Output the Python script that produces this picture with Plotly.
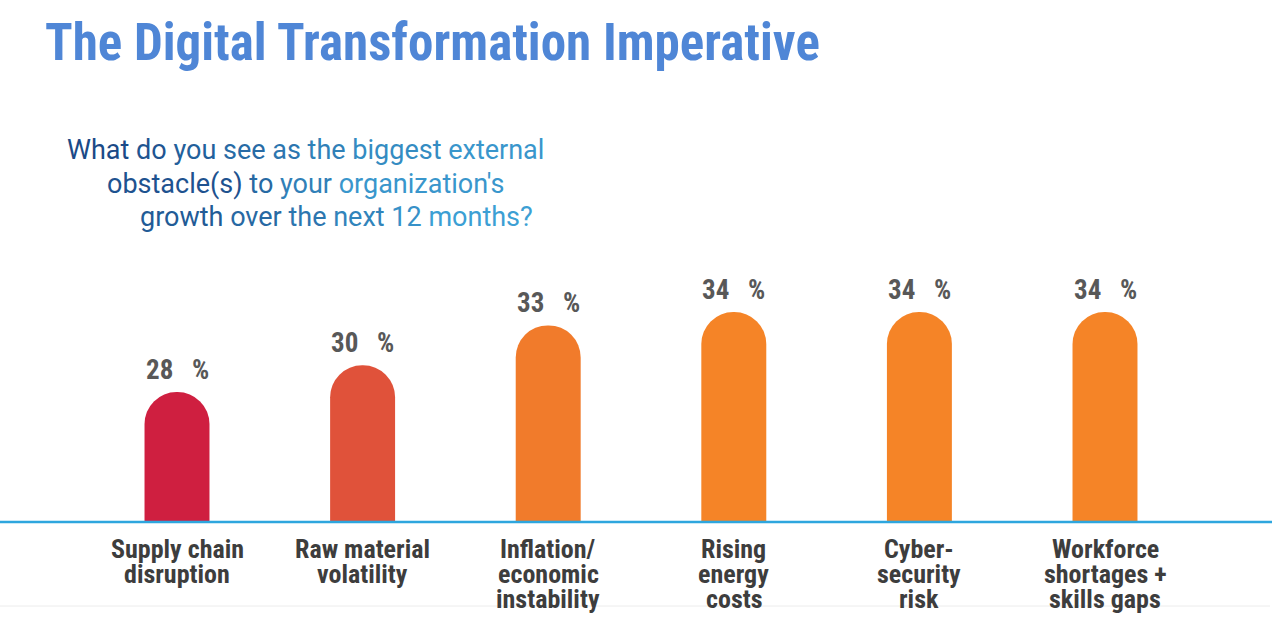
import plotly.graph_objects as go

categories = ["Supply chain<br>disruption", "Raw material<br>volatility", "Inflation/<br>economic<br>instability",
              "Rising<br>energy<br>costs", "Cyber-<br>security<br>risk", "Workforce<br>shortages +<br>skills gaps"]
values = [28, 30, 33, 34, 34, 34]
bar_colors = ["#cf1f40", "#e0523a", "#f17b2b", "#f58427", "#f58427", "#f58427"]

title_text = "The Digital Transformation Imperative"
subtitle_lines = [
    ["What", "do", "you", "see", "as", "the", "biggest", "external"],
    ["obstacle(s)", "to", "your", "organization's"],
    ["growth", "over", "the", "next", "12", "months?"],
]
subtitle_x = [65, 105, 138]
subtitle_y = [150, 184, 217]

W, H = 1280, 618
M_T, M_B = 100, 96
plot_h = H - M_T - M_B
base_px = H - M_B  # 522

xs = list(range(len(categories)))
px_per_cat = 185.6
c0 = 177
xr = [-c0 / px_per_cat, (W - c0) / px_per_cat]
ymin = 18.25
ppu = 13.33
yr = [ymin, ymin + plot_h / ppu]

def py_to_paper(py):
    return (base_px - py) / plot_h

COND = "Roboto Condensed, Liberation Sans Narrow, Roboto"

fig = go.Figure()
fig.add_trace(go.Bar(x=xs, y=values, width=0.35, marker=dict(color=bar_colors, line=dict(width=0)),
                     hoverinfo="skip"))

for x, v in zip(xs, values):
    fig.add_annotation(x=x, y=v, xref="x", yref="y", yanchor="bottom", yshift=4, showarrow=False,
                       text=f"{v}\u00a0\u00a0\u00a0%",
                       font=dict(family=COND, size=27, color="#585858", weight="bold"))

# category labels, one line each for tight line spacing
line_y = [549, 574, 599]
for x, cat in zip(xs, categories):
    for li, line in enumerate(cat.split("<br>")):
        fig.add_annotation(x=x, y=py_to_paper(line_y[li]), xref="x", yref="paper", yanchor="middle",
                           showarrow=False, text=line,
                           font=dict(family=COND, size=26, color="#3d3d3d", weight="bold"))

def lerp(c1, c2, t):
    a = [int(c1[i:i+2], 16) for i in (1, 3, 5)]
    b = [int(c2[i:i+2], 16) for i in (1, 3, 5)]
    return "#" + "".join(f"{round(a[k] + (b[k]-a[k])*t):02x}" for k in range(3))

for li, words in enumerate(subtitle_lines):
    n = len(words)
    parts = []
    for wi, w in enumerate(words):
        t = (wi / max(n - 1, 1)) * (0.9 if li == 0 else 0.8) + li * 0.1
        t = min(t, 1)
        parts.append(f"<span style='color:{lerp('#1b4a87', '#3c9fd4', t)}'>{w}</span>")
    fig.add_annotation(x=subtitle_x[li] / W, y=py_to_paper(subtitle_y[li]), xref="paper", yref="paper",
                       xanchor="left", yanchor="middle", showarrow=False, text=" ".join(parts),
                       font=dict(family="Roboto", size=27, color="#1b4a87"))

# baseline and faint bottom rule
fig.add_shape(type="line", xref="paper", yref="paper", x0=0, x1=1272 / W, y0=0, y1=0,
              line=dict(color="#2ea6de", width=2.5), layer="above")
fig.add_shape(type="line", xref="paper", yref="paper", x0=0, x1=1270 / W,
              y0=py_to_paper(606), y1=py_to_paper(606), line=dict(color="#ececec", width=1))

fig.update_layout(
    width=W, height=H,
    margin=dict(l=0, r=0, t=M_T, b=M_B, autoexpand=False),
    paper_bgcolor="white", plot_bgcolor="white",
    showlegend=False,
    barcornerradius=32,
    title=dict(text=title_text, x=45 / W, xanchor="left", y=1 - 42 / H, yanchor="middle",
               font=dict(family=COND, size=51, color="#4f86d6", weight="bold")),
    xaxis=dict(range=xr, showticklabels=False, showgrid=False, zeroline=False, showline=False, ticks=""),
    yaxis=dict(range=yr, visible=False, showgrid=False, zeroline=False),
)

fig.write_html("out.html")
